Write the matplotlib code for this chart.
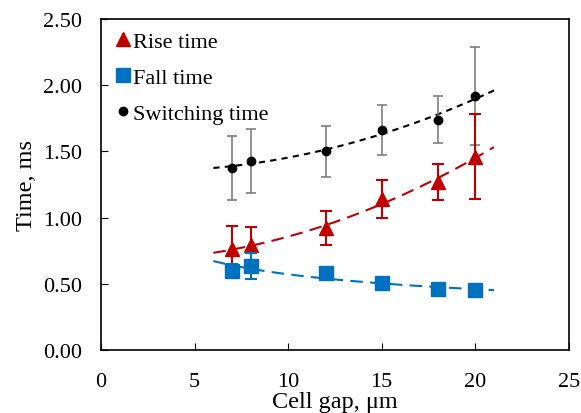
import numpy as np
import matplotlib
matplotlib.use("Agg")
import matplotlib.pyplot as plt

plt.rcParams["font.family"] = ["Liberation Serif", "DejaVu Serif"]

gap = [7, 8, 12, 15, 18, 20]
rise = [0.76, 0.79, 0.92, 1.14, 1.27, 1.46]
rise_err = [0.18, 0.14, 0.13, 0.14, 0.135, 0.32]
fall = [0.60, 0.635, 0.58, 0.51, 0.46, 0.45]
fall_err = [0.05, 0.095, 0.04, 0.02, 0.02, 0.02]
switch = [1.375, 1.425, 1.50, 1.66, 1.74, 1.915]
switch_err = [0.24, 0.24, 0.19, 0.19, 0.18, 0.37]

RED, BLUE = "#C00000", "#0070C0"

fig = plt.figure(figsize=(5.81, 4.14), dpi=100)
ax = fig.add_axes([0.174, 0.152, 0.805, 0.8])

xs = np.linspace(6, 21, 100)
# trend lines: quadratic for switching / rise, power law for fall
c_sw = np.polyfit(gap, switch, 2)
c_ri = np.polyfit(gap, rise, 2)
c_fa = np.polyfit(np.log(gap), np.log(fall), 1)
ax.plot(xs, np.polyval(c_sw, xs), color="black", lw=1.5, dashes=(3, 2.5), zorder=2)
ax.plot(xs, np.polyval(c_ri, xs), color=RED, lw=1.5, dashes=(6, 3.5), zorder=2)
ax.plot(xs, np.exp(np.polyval(c_fa, np.log(xs))), color=BLUE, lw=1.5, dashes=(6, 3.5), zorder=2)

ax.errorbar(gap, switch, yerr=switch_err, fmt="o", color="black", ms=6,
            ecolor="#7f7f7f", elinewidth=1.2, capsize=3.5, capthick=1.2,
            label="Switching time", zorder=3)
ax.errorbar(gap, rise, yerr=rise_err, fmt="^", color=RED, ms=9.5,
            ecolor=RED, elinewidth=1.5, capsize=4, capthick=1.5,
            label="Rise time", zorder=4)
ax.errorbar(gap, fall, yerr=fall_err, fmt="s", color=BLUE, ms=10,
            ecolor=BLUE, elinewidth=1.5, capsize=4, capthick=1.5,
            label="Fall time", zorder=5)

ax.set_xlim(0, 25)
ax.set_ylim(0, 2.5)
ax.set_xticks(range(0, 26, 5))
ax.set_yticks(np.arange(0, 2.51, 0.5))
ax.set_yticklabels([f"{v:.2f}" for v in np.arange(0, 2.51, 0.5)])
ax.tick_params(direction="in", length=5, labelsize=16, top=False, right=False)
ax.tick_params(axis="y", pad=14)
ax.tick_params(axis="x", pad=16)
ax.set_xlabel("Cell gap, μm", fontsize=17.5, labelpad=0)
ax.set_ylabel("Time, ms", fontsize=17.5, labelpad=4)
for s in ax.spines.values():
    s.set_linewidth(1.2)

h, l = ax.get_legend_handles_labels()
order = [1, 2, 0]
ax.legend([h[i][0] for i in order], [l[i] for i in order], loc="upper left",
          bbox_to_anchor=(0.0, 1.01), frameon=False, fontsize=16,
          handlelength=0.6, handletextpad=0.15, labelspacing=0.7, borderaxespad=0.3)

fig.savefig("out.png", dpi=100)
